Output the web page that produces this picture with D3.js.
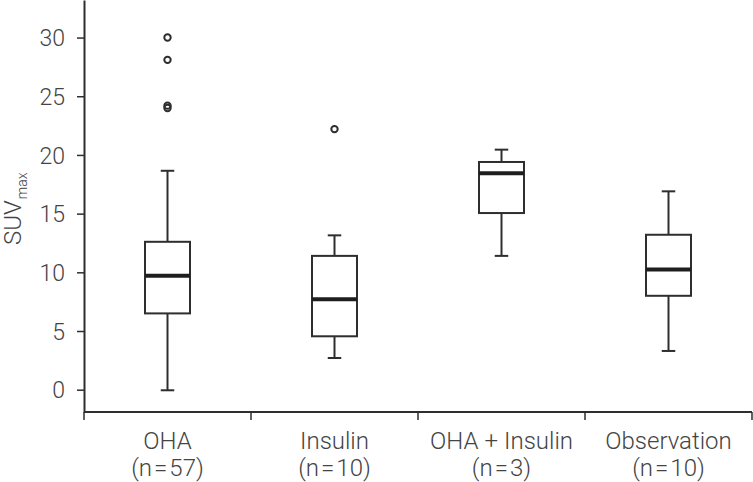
<!DOCTYPE html>
<html>
<head>
<meta charset="utf-8">
<script src="https://cdn.jsdelivr.net/npm/d3@7"></script>
<style>
  html, body { margin: 0; padding: 0; background: #fff; }
  svg { display: block; }
  text { font-family: Roboto, "Liberation Sans", sans-serif; font-weight: 300; fill: #444; }
</style>
</head>
<body>
<svg id="chart" width="753" height="482"></svg>
<script>
// ---- data ----
const categories = ["OHA", "Insulin", "OHA+Insulin", "Observation"];
const nLabels = ["(n=57)", "(n=10)", "(n=3)", "(n=10)"];
const whiskerLow = [-0.05, 2.7, 11.4, 3.3];
const q1 = [6.5, 4.55, 15.05, 8.0];
const median = [9.7, 7.7, 18.45, 10.25];
const q3 = [12.6, 11.4, 19.4, 13.2];
const whiskerHigh = [18.65, 13.15, 20.45, 16.9];
const outliers = [[30.0, 28.1, 24.2, 24.0], [22.2], [], []];
const yTicks = [0, 5, 10, 15, 20, 25, 30];

// ---- layout ----
const plotLeft = 84, plotRight = 752, plotTop = 0, plotBottom = 412;
const lineColor = "#2e2e2e";

const svg = d3.select("#chart");

const x = d3.scaleBand().domain(categories).range([plotLeft, plotRight]).paddingInner(0).paddingOuter(0);
const y = d3.scaleLinear().domain([-1.9, 33.2]).range([plotBottom, plotTop]);

// y axis
const yAxis = svg.append("g")
  .attr("transform", `translate(${plotLeft},0)`)
  .call(d3.axisLeft(y).tickValues(yTicks).tickSize(7).tickSizeOuter(0).tickPadding(12));
yAxis.attr("font-family", null).attr("font-size", null);
yAxis.select(".domain").attr("stroke", lineColor).attr("stroke-width", 2);
yAxis.selectAll(".tick line").attr("stroke", lineColor).attr("stroke-width", 1.5);
yAxis.selectAll(".tick text")
  .attr("font-size", 23).attr("fill", "#444")
  .attr("dy", "0.36em");

// x axis line
svg.append("line")
  .attr("x1", plotLeft).attr("x2", plotRight).attr("y1", plotBottom).attr("y2", plotBottom)
  .attr("stroke", lineColor).attr("stroke-width", 2);

// boundary ticks
const bounds = categories.map(c => x(c)).concat([x(categories[categories.length - 1]) + x.bandwidth()]);
svg.selectAll(".xb").data(bounds).join("line")
  .attr("class", "xb")
  .attr("x1", d => d).attr("x2", d => d)
  .attr("y1", plotBottom).attr("y2", plotBottom + 8)
  .attr("stroke", lineColor).attr("stroke-width", 1.5);

// category labels: split around "+" / "=" so those symbols get the wider spacing of the reference
function spaced(sel, str, sym, gap) {
  const parts = str.split(sym);
  parts.forEach((p, k) => {
    if (k > 0) sel.append("tspan").attr("dx", gap).text(sym);
    const t = sel.append("tspan").text(p);
    if (k > 0) t.attr("dx", gap);
  });
}
const cx = d => x(d) + x.bandwidth() / 2;
const lab1 = svg.selectAll(".clab1").data(categories).join("text")
  .attr("class", "clab1").attr("text-anchor", "middle").attr("font-size", 24)
  .attr("x", cx).attr("y", 449);
lab1.each(function (d) { spaced(d3.select(this), d, "+", 6); });
const lab2 = svg.selectAll(".clab2").data(nLabels).join("text")
  .attr("class", "clab2").attr("text-anchor", "middle").attr("font-size", 24)
  .attr("x", (d, i) => cx(categories[i])).attr("y", 476);
lab2.each(function (d) { spaced(d3.select(this), d, "=", 2); });

// y label
const yl = svg.append("text")
  .attr("transform", "translate(21,245) rotate(-90)")
  .attr("font-size", 24)
  .attr("text-anchor", "start");
yl.append("tspan").text("SUV");
yl.append("tspan").attr("font-size", 14).attr("dy", 6).attr("dx", 1).text("max");

// boxes
const boxW = 45, capW = 13.5;
const g = svg.selectAll(".box").data(categories).join("g").attr("class", "box")
  .attr("transform", d => `translate(${cx(d)},0)`);

g.append("line") // whisker
  .attr("x1", 0).attr("x2", 0)
  .attr("y1", (d, i) => y(whiskerLow[i])).attr("y2", (d, i) => y(whiskerHigh[i]))
  .attr("stroke", lineColor).attr("stroke-width", 2);
g.append("line").attr("x1", -capW / 2).attr("x2", capW / 2)
  .attr("y1", (d, i) => y(whiskerLow[i])).attr("y2", (d, i) => y(whiskerLow[i]))
  .attr("stroke", lineColor).attr("stroke-width", 2);
g.append("line").attr("x1", -capW / 2).attr("x2", capW / 2)
  .attr("y1", (d, i) => y(whiskerHigh[i])).attr("y2", (d, i) => y(whiskerHigh[i]))
  .attr("stroke", lineColor).attr("stroke-width", 2);
g.append("rect")
  .attr("x", -boxW / 2).attr("width", boxW)
  .attr("y", (d, i) => y(q3[i])).attr("height", (d, i) => y(q1[i]) - y(q3[i]))
  .attr("fill", "#fff").attr("stroke", lineColor).attr("stroke-width", 2);
g.append("line").attr("x1", -boxW / 2).attr("x2", boxW / 2)
  .attr("y1", (d, i) => y(median[i])).attr("y2", (d, i) => y(median[i]))
  .attr("stroke", "#1e1e1e").attr("stroke-width", 4);
g.each(function (d, i) {
  d3.select(this).selectAll("circle").data(outliers[i]).join("circle")
    .attr("cx", 0).attr("cy", v => y(v)).attr("r", 3.2)
    .attr("fill", "none").attr("stroke", lineColor).attr("stroke-width", 2);
});
</script>
</body>
</html>
